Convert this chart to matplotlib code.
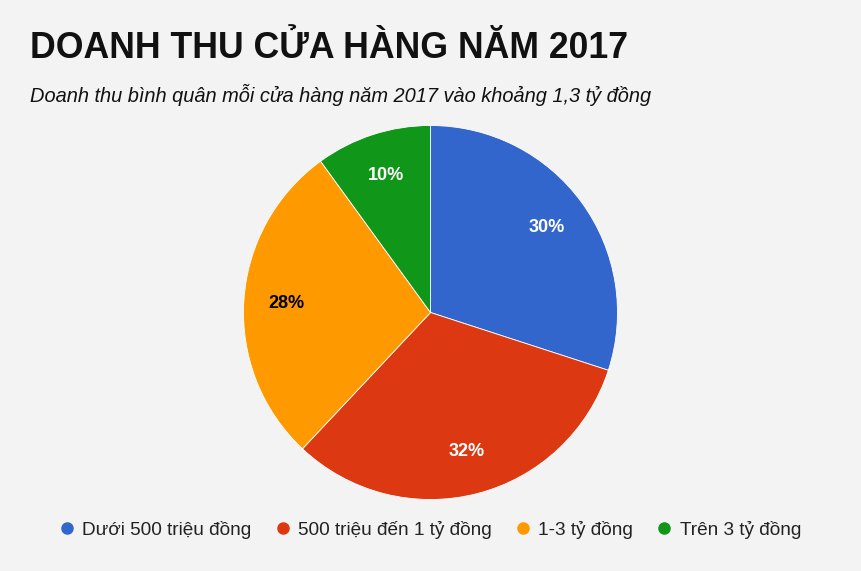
import matplotlib.pyplot as plt
from matplotlib.lines import Line2D

plt.rcParams['font.family'] = ['Liberation Sans', 'DejaVu Sans']

# dữ liệu
labels = ['Dưới 500 triệu đồng', '500 triệu đến 1 tỷ đồng', '1-3 tỷ đồng', 'Trên 3 tỷ đồng']
values = [30, 32, 28, 10]
colors = ['#3366CC', '#DC3912', '#FF9900', '#109618']
label_colors = ['white', 'white', 'black', 'white']

bg = '#F3F3F3'
fig = plt.figure(figsize=(8.61, 5.71), dpi=100, facecolor=bg)

# trục cho biểu đồ tròn: tâm (430, 312), bán kính 187 px
W, H = 861, 571
cx, cy, r = 430.5, 312.5, 187
ax = fig.add_axes([(cx - r) / W, (H - cy - r) / H, 2 * r / W, 2 * r / H])
ax.set_facecolor(bg)
wedges, texts, autotexts = ax.pie(values, colors=colors, startangle=90, counterclock=False,
                                  autopct='%d%%', pctdistance=0.77, radius=1,
                                  wedgeprops=dict(edgecolor='white', linewidth=0.6))
for t, c in zip(autotexts, label_colors):
    t.set_color(c)
    t.set_fontsize(13)
    t.set_fontweight('bold')
ax.set_xlim(-1, 1)
ax.set_ylim(-1, 1)
ax.set_aspect('equal')
ax.axis('off')

fig.text(30 / W, 1 - 49 / H, 'DOANH THU CỬA HÀNG NĂM 2017', fontsize=25.7, fontweight='bold',
         ha='left', va='center', color='#111111')
fig.text(30 / W, 1 - 95 / H, 'Doanh thu bình quân mỗi cửa hàng năm 2017 vào khoảng 1,3 tỷ đồng',
         fontsize=14.45, style='italic', ha='left', va='center', color='#111111')

# chú giải với marker tròn
handles = [Line2D([], [], marker='o', linestyle='', markersize=8, color=c) for c in colors]
fig.legend(handles, labels, loc='center', bbox_to_anchor=(430 / W, 1 - 530 / H), ncol=4,
           frameon=False, fontsize=13.7, handlelength=0.8, handletextpad=0.4,
           columnspacing=1.25, labelcolor='#222222')

fig.savefig('out.png', dpi=100, facecolor=bg)
